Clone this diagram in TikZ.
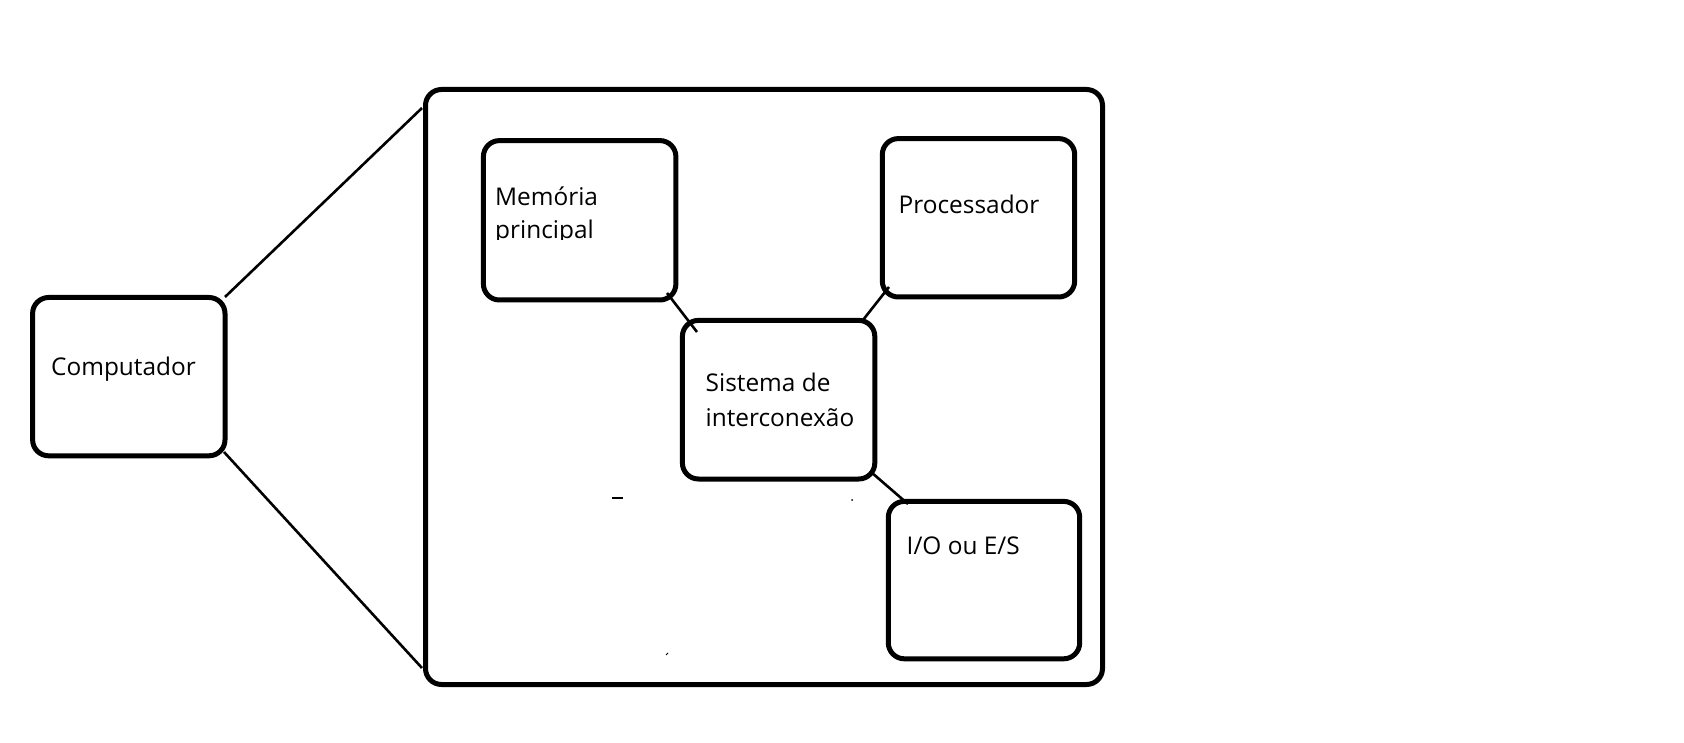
\documentclass[tikz,border=0pt]{standalone}
\usepackage{fontspec}
\setmainfont{Open Sans}
\begin{document}
\begin{tikzpicture}[x=1pt,y=-1pt,
  box/.style={draw=black,line width=5pt,rounded corners=16pt,anchor=north west,inner sep=0pt},
  conn/.style={draw=black,line width=2.6pt},
  lbl/.style={anchor=base west,inner sep=0pt,font=\fontsize{24.4}{33}\selectfont,align=left}]
\useasboundingbox[fill=white] (0,0) rectangle (1684,743);
% boxes
\node[box,minimum width=192.4pt,minimum height=158.3pt] (comp) at (30.1,295) {};
\node[box,minimum width=677pt,minimum height=595pt] (big) at (423,87) {};
\node[box,minimum width=192.5pt,minimum height=159.4pt] (mem) at (480.9,138.1) {};
\node[box,minimum width=192.4pt,minimum height=158.4pt] (proc) at (879.8,136.1) {};
\node[box,minimum width=192.4pt,minimum height=158.6pt] (sis) at (679.9,317.9) {};
\node[box,minimum width=191.4pt,minimum height=157.4pt] (io) at (885.8,498.9) {};
% labels
\node[lbl] (tcomp) at (51,375) {Computador};
\node[lbl] (tmem) at (495,205.5) {Memória};
\begin{scope}
\clip (485,213) rectangle (665,239.5);
\node[lbl] (tprin) at (495,238.5) {principal};
\end{scope}
\node[lbl] (tproc) at (898.5,213.5) {Processador};
\node[lbl] (tsis1) at (705.5,391.5) {Sistema de};
\node[lbl] (tsis2) at (705.5,426.5) {interconexão};
\node[lbl] (tio) at (906.5,554) {I/O ou E/S};
% connector end points
\coordinate (c1a) at (225,297); \coordinate (c1b) at (422,108);
\coordinate (c2a) at (224,452); \coordinate (c2b) at (422,668);
\coordinate (m1) at (667,293); \coordinate (s1) at (697,332);
\coordinate (p1) at (889,287); \coordinate (s2) at (863,320);
\coordinate (s3) at (871,472); \coordinate (i1) at (908,504);
\draw[conn] (c1a) -- (c1b);
\draw[conn] (c2a) -- (c2b);
\draw[conn] (m1) -- (s1);
\draw[conn] (p1) -- (s2);
\draw[conn] (s3) -- (i1);
% small stray marks
\coordinate (d1) at (612,498); \coordinate (d2) at (623,498);
\draw[line width=1.2pt] (d1) -- (d2);
\coordinate (d3) at (852,500);
\fill (d3) circle (1pt);
\coordinate (d4) at (666,655); \coordinate (d5) at (668,653);
\draw[line width=1pt] (d4) -- (d5);
\end{tikzpicture}
\end{document}
